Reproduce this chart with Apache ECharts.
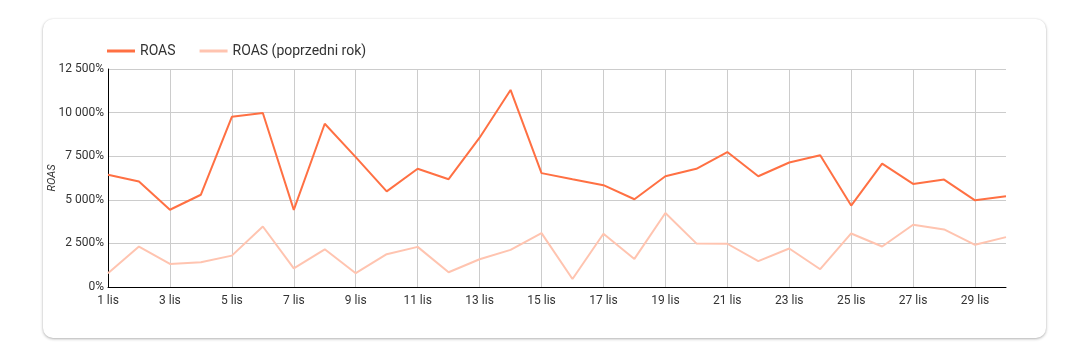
<!DOCTYPE html>
<html>
<head>
<meta charset="utf-8">
<script src="https://cdn.jsdelivr.net/npm/echarts@6/dist/echarts.min.js"></script>
<style>
  html, body { margin: 0; padding: 0; background: #ffffff; width: 1074px; height: 349px; overflow: hidden; }
  #card { position: absolute; left: 43px; top: 19px; width: 1003px; height: 319px; background: #ffffff;
          border-radius: 10px; box-shadow: 0 1px 3px rgba(0,0,0,0.3), 0 0 2px rgba(0,0,0,0.06); }
  #chart { position: absolute; left: 0; top: 0; width: 1074px; height: 349px; }
</style>
</head>
<body>
<div id="card"></div>
<div id="chart"></div>
<script>
const categories = ['1 lis','2 lis','3 lis','4 lis','5 lis','6 lis','7 lis','8 lis','9 lis','10 lis',
  '11 lis','12 lis','13 lis','14 lis','15 lis','16 lis','17 lis','18 lis','19 lis','20 lis',
  '21 lis','22 lis','23 lis','24 lis','25 lis','26 lis','27 lis','28 lis','29 lis','30 lis'];
const roas = [6440, 6050, 4430, 5290, 9760, 9980, 4420, 9360, 7450, 5480,
  6780, 6180, 8560, 11300, 6530, 6180, 5840, 5030, 6350, 6780,
  7740, 6350, 7140, 7560, 4670, 7070, 5910, 6160, 4970, 5200];
const roasPrev = [790, 2320, 1320, 1420, 1800, 3470, 1070, 2160, 790, 1880,
  2300, 845, 1590, 2130, 3090, 460, 3050, 1610, 4240, 2500,
  2480, 1480, 2210, 1020, 3070, 2320, 3570, 3300, 2420, 2860];
const seriesNames = ['ROAS', 'ROAS (poprzedni rok)'];
const yTicks = { min: 0, max: 12500, interval: 2500 };

function fmt(v) {
  return String(v).replace(/\B(?=(\d{3})+(?!\d))/g, ' ') + '%';
}

const chart = echarts.init(document.getElementById('chart'), null, { renderer: 'canvas' });
chart.setOption({
  animation: false,
  textStyle: { fontFamily: 'Roboto' },
  legend: {
    left: 102, top: 39,
    itemWidth: 28, itemHeight: 3, itemGap: 24,
    icon: 'rect',
    textStyle: { fontSize: 14, color: '#333', fontFamily: 'Roboto' },
    data: seriesNames
  },
  grid: { left: 108, right: 68, top: 69, bottom: 62, containLabel: false },
  xAxis: {
    type: 'category',
    data: categories,
    boundaryGap: false,
    axisLine: { show: true, lineStyle: { color: '#000', width: 1 } },
    axisTick: { show: false },
    axisLabel: { interval: 1, color: '#333', fontSize: 12, margin: 8, fontFamily: 'Roboto' },
    splitLine: { show: true, interval: 1, lineStyle: { color: '#cccccc', width: 1 } }
  },
  yAxis: {
    type: 'value',
    min: yTicks.min, max: yTicks.max, interval: yTicks.interval,
    name: 'ROAS',
    nameLocation: 'middle',
    nameRotate: 90,
    nameGap: 50,
    nameMoveOverlap: false,
    nameTextStyle: { fontStyle: 'italic', fontSize: 11, color: '#333', fontFamily: 'Roboto' },
    axisLine: { show: true, lineStyle: { color: '#000', width: 1 } },
    axisTick: { show: false },
    axisLabel: { formatter: fmt, color: '#333', fontSize: 12, margin: 4, fontFamily: 'Roboto' },
    splitLine: { show: true, lineStyle: { color: '#cccccc', width: 1 } }
  },
  series: [
    {
      name: seriesNames[0], type: 'line', data: roas, symbol: 'none',
      lineStyle: { color: '#ff7043', width: 2 }, itemStyle: { color: '#ff7043' }, z: 3
    },
    {
      name: seriesNames[1], type: 'line', data: roasPrev, symbol: 'none',
      lineStyle: { color: '#ffc4b0', width: 2 }, itemStyle: { color: '#ffc4b0' }, z: 2
    }
  ]
});
</script>
</body>
</html>
